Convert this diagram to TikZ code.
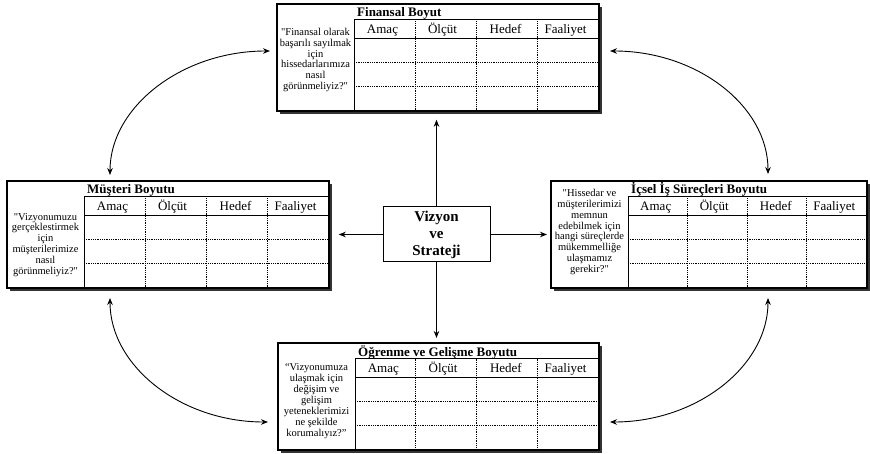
\documentclass[tikz,border=0pt]{standalone}
\usepackage{fontspec}
\setmainfont{Liberation Serif}
\newfontfamily\plainq{Liberation Serif}[Ligatures=ResetAll]
\newcommand\sq{{\plainq\symbol{34}}}
\usetikzlibrary{arrows.meta}
\definecolor{shadowgray}{HTML}{333333}
\tikzset{
  boxframe/.style={draw=black, line width=1.8pt, fill=white, inner sep=0pt, anchor=north west},
  solidline/.style={draw=black, line width=0.8pt},
  dotline/.style={draw=black, line width=0.8pt, dash pattern=on 0.8pt off 1pt},
  titletext/.style={font=\fontsize{13}{14}\selectfont\bfseries, anchor=base west, inner sep=0pt},
  colhead/.style={font=\fontsize{13}{14}\selectfont, anchor=base, inner sep=0pt},
  quotetext/.style={font=\fontsize{10.5}{10.9}\selectfont, align=center, inner sep=0pt},
  arr/.style={draw=black, line width=0.9pt, -{Stealth[length=7pt,width=5.5pt]}},
  darr/.style={draw=black, line width=0.9pt, {Stealth[length=7pt,width=5.5pt]}-{Stealth[length=7pt,width=5.5pt]}},
  centerbox/.style={draw=black, line width=1pt, minimum width=107pt, minimum height=55pt, inner sep=0pt, align=center, font=\fontsize{15}{17}\selectfont\bfseries}
}
% #1 name, #2 left x, #3 top y, #4 width, #5 title, #6 quote, #7 quote centre y offset
\newcommand\bscard[7]{%
  \fill[shadowgray] (#2+4,#3+4) rectangle (#2+#4+4,#3+111);
  \node[boxframe, minimum width=#4pt, minimum height=107pt] (#1) at (#2,#3) {};
  \draw[solidline] (#2+78,#3+16.5) -- (#2+#4,#3+16.5);
  \draw[solidline] (#2+78,#3+35) -- (#2+#4,#3+35);
  \draw[solidline] (#2+78,#3+16.5) -- (#2+78,#3+107);
  \draw[dotline] (#2+78,#3+59) -- (#2+#4,#3+59);
  \draw[dotline] (#2+78,#3+83) -- (#2+#4,#3+83);
  \foreach \i in {1,2,3} {
    \draw[dotline] ({#2+78+\i*(#4-78)/4},#3+16.5) -- ({#2+78+\i*(#4-78)/4},#3+107);
  }
  \node[titletext] (#1-title) at (#2+81,#3+14) {#5};
  \node[colhead] (#1-c1) at ({#2+78+0.5*(#4-78)/4-2},#3+30.5) {Amaç};
  \node[colhead] (#1-c2) at ({#2+78+1.5*(#4-78)/4-3},#3+30.5) {Ölçüt};
  \node[colhead] (#1-c3) at ({#2+78+2.5*(#4-78)/4-1},#3+30.5) {Hedef};
  \node[colhead] (#1-c4) at ({#2+78+3.5*(#4-78)/4-2},#3+30.5) {Faaliyet};
  \node[quotetext] (#1-quote) at (#2+39.5,#3+#7) {#6};
}
\begin{document}
\begin{tikzpicture}[x=1pt,y=-1pt]
\useasboundingbox (0,0) rectangle (870,454);
\fill[white] (0,0) rectangle (870,454);

\bscard{fin}{276}{3}{322}{Finansal Boyut}{\sq Finansal olarak\\başarılı sayılmak\\için\\hissedarlarımıza\\nasıl\\görünmeliyiz?\sq}{57}
\bscard{mus}{6}{180}{322}{Müşteri Boyutu}{\sq Vizyonumuzu\\gerçeklestirmek\\için\\müşterilerimize\\nasıl\\görünmeliyiz?\sq}{65}
\bscard{ics}{550}{180}{316}{İçsel İş Süreçleri Boyutu}{\sq Hissedar ve\\müşterilerimizi\\memnun\\edebilmek için\\hangi süreçlerde\\mükemmelliğe\\ulaşmamız\\gerekir?\sq}{52}
\bscard{ogr}{277}{342}{321}{Öğrenme ve Gelişme Boyutu}{“Vizyonumuza\\ulaşmak için\\değişim ve\\gelişim\\yeteneklerimizi\\ne şekilde\\korumalıyız?”}{59}

\node[centerbox] (vis) at (436.5,234.5) {Vizyon\\ve\\Strateji};

\draw[arr, shorten >=8pt] (vis.north) -- (vis.north |- fin.south);
\draw[arr, shorten >=4pt] (vis.south) -- (vis.south |- ogr.north);
\draw[arr, shorten >=9pt] (vis.west) -- (vis.west -| mus.east);
\draw[arr, shorten >=3pt] (vis.east) -- (vis.east -| ics.west);

\coordinate (tlA) at (270,51);
\coordinate (tlB) at (110,175);
\coordinate (trA) at (610,51);
\coordinate (trB) at (768,174);
\coordinate (blA) at (110,298);
\coordinate (blB) at (268,422);
\coordinate (brA) at (768,298);
\coordinate (brB) at (610,422);

\draw[darr] (tlB) .. controls (110,107) and (182,51) .. (tlA);
\draw[darr] (trA) .. controls (697,51) and (768,106) .. (trB);
\draw[darr] (blA) .. controls (110,366) and (181,422) .. (blB);
\draw[darr] (brA) .. controls (768,366) and (697,422) .. (brB);
\end{tikzpicture}
\end{document}
